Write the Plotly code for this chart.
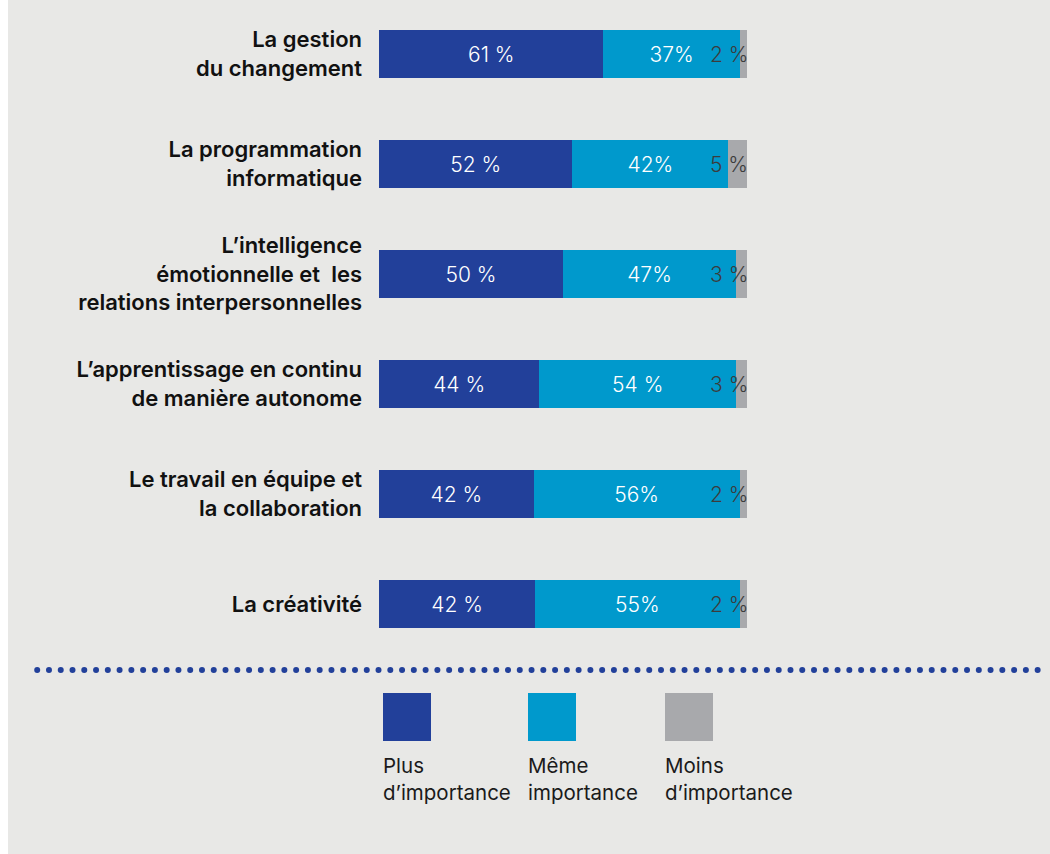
import numpy as np
import plotly.graph_objects as go

# Skills and share of respondents per answer
categories = [
    "La gestion<br>du changement",
    "La programmation<br>informatique",
    "L’intelligence<br>émotionnelle et  les<br>relations interpersonnelles",
    "L’apprentissage en continu<br>de manière autonome",
    "Le travail en équipe et<br>la collaboration",
    "La créativité",
]
plus_vals = [61, 52, 50, 44, 42, 42]
meme_vals = [37, 42, 47, 54, 56, 55]
moins_vals = [2, 5, 3, 3, 2, 2]

plus_text = ["61 %", "52 %", "50 %", "44 %", "42 %", "42 %"]
meme_text = ["37%", "42%", "47%", "54 %", "56%", "55%"]
moins_text = ["2 %", "5 %", "3 %", "3 %", "2 %", "2 %"]

series_names = ["Plus<br>d’importance", "Même<br>importance", "Moins<br>d’importance"]

NAVY = "#22409a"
CYAN = "#0099cc"
GREY = "#a8a9ac"
BG = "#e8e8e6"
FONT = "Inter"

W, H = 1050, 854


def px_x(px):
    return px / W


def px_y(py):
    return 1 - py / H


fig = go.Figure()

bar_width = 0.436
for vals, txt, color, name in [
    (plus_vals, plus_text, NAVY, series_names[0]),
    (meme_vals, meme_text, CYAN, series_names[1]),
]:
    fig.add_trace(go.Bar(
        y=categories, x=vals, orientation="h", name=name,
        marker=dict(color=color, line=dict(width=0)),
        width=bar_width,
        text=txt, textposition="inside", insidetextanchor="middle",
        textangle=0, constraintext="none",
        textfont=dict(family=FONT, size=21, color="white", weight=300),
        hoverinfo="skip", showlegend=False,
    ))

fig.add_trace(go.Bar(
    y=categories, x=moins_vals, orientation="h", name=series_names[2],
    marker=dict(color=GREY, line=dict(width=0)),
    width=bar_width, hoverinfo="skip", showlegend=False,
))

# Labels of the small grey segments sit at the right end of each bar
annotations = []
for cat, t in zip(categories, moins_text):
    annotations.append(dict(
        x=100, y=cat, xref="x", yref="y", text=t, showarrow=False,
        xanchor="right", yanchor="middle", xshift=3,
        font=dict(family=FONT, size=21, color="#3c3c3c", weight=300),
    ))

# Dotted separator line across the page
dot_x = np.arange(37.2, 1046, 11.77)
fig.add_trace(go.Scatter(
    x=dot_x, y=[670] * len(dot_x), xaxis="x2", yaxis="y2",
    mode="markers", marker=dict(size=6, color=NAVY, line=dict(width=0)),
    hoverinfo="skip", showlegend=False,
))

shapes = [
    dict(type="rect", xref="paper", yref="paper", x0=0, x1=px_x(8), y0=0, y1=1,
         fillcolor="white", line=dict(width=0), layer="below"),
]

# Legend: swatches with two-line captions underneath
legend_left = [383, 528, 665]
for lx, color, name in zip(legend_left, [NAVY, CYAN, GREY], series_names):
    shapes.append(dict(
        type="rect", xref="paper", yref="paper",
        x0=px_x(lx), x1=px_x(lx + 48), y0=px_y(741), y1=px_y(693),
        fillcolor=color, line=dict(width=0),
    ))
    annotations.append(dict(
        x=px_x(lx - 2), y=px_y(751), xref="paper", yref="paper",
        text=name, showarrow=False, xanchor="left", yanchor="top", align="left",
        font=dict(family=FONT, size=20.5, color="#1a1a1a", weight=400),
    ))

fig.update_layout(
    width=W, height=H,
    margin=dict(l=0, r=0, t=0, b=0),
    paper_bgcolor=BG, plot_bgcolor="rgba(0,0,0,0)",
    barmode="stack", barnorm="percent",
    shapes=shapes, annotations=annotations,
    xaxis=dict(domain=[px_x(379), px_x(747)], range=[0, 100], visible=False,
               fixedrange=True),
    yaxis=dict(domain=[px_y(640), px_y(10)], type="category",
               range=[(640 - 54) / 110, (10 - 54) / 110],
               showgrid=False, zeroline=False, showline=False, ticks="",
               ticklabelstandoff=16,
               tickfont=dict(family=FONT, size=22, color="#111111", weight=600)),
    xaxis2=dict(domain=[0, 1], range=[0, W], visible=False, anchor="y2"),
    yaxis2=dict(domain=[0, 1], range=[H, 0], visible=False, anchor="x2"),
    font=dict(family=FONT),
)

fig.write_html("out.html")
